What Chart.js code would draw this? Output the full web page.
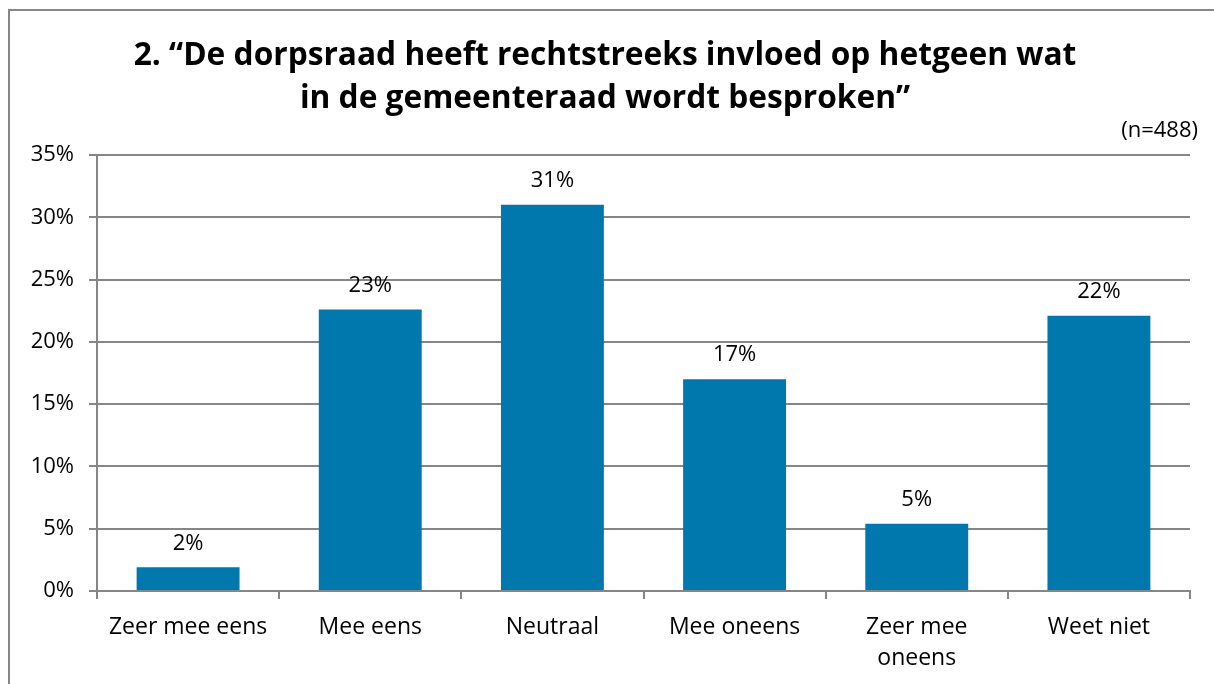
<!DOCTYPE html>
<html>
<head>
<meta charset="utf-8">
<script src="https://cdn.jsdelivr.net/npm/chart.js@4.4.0/dist/chart.umd.min.js"></script>
<style>
  html, body { margin: 0; padding: 0; background: #fff; }
  #wrap { position: relative; width: 1214px; height: 684px; }
</style>
</head>
<body>
<div id="wrap"><canvas id="chartDorpsraad" width="1214" height="684"></canvas></div>
<script>
// Stelling 2 - dorpsraad / gemeenteraad
const categories = ['Zeer mee eens', 'Mee eens', 'Neutraal', 'Mee oneens', ['Zeer mee', 'oneens'], 'Weet niet'];
const percentages = [1.9, 22.6, 31.0, 17.0, 5.4, 22.1];
const titleLines = ['2. \u201cDe dorpsraad heeft rechtstreeks invloed op hetgeen wat', 'in de gemeenteraad wordt besproken\u201d'];
const sampleNote = '(n=488)';

const FONT = '"Open Sans", sans-serif';
const GREY = '#868686';

// frame, title, n and value labels
const decorPlugin = {
  id: 'decor',
  beforeDraw(chart) {
    const ctx = chart.ctx;
    ctx.save();
    ctx.fillStyle = '#fff';
    ctx.fillRect(0, 0, chart.width, chart.height);
    ctx.strokeStyle = GREY;
    ctx.lineWidth = 2;
    ctx.beginPath();
    ctx.moveTo(9, chart.height);
    ctx.lineTo(9, 10);
    ctx.lineTo(chart.width, 10);
    ctx.stroke();
    ctx.restore();
  },
  afterDraw(chart) {
    const ctx = chart.ctx;
    ctx.save();
    ctx.fillStyle = '#000';
    ctx.textAlign = 'center';
    ctx.textBaseline = 'middle';
    ctx.font = 'bold 31.7px ' + FONT;
    ctx.fillText(titleLines[0], 605, 56);
    ctx.fillText(titleLines[1], 605, 99);
    ctx.font = '22px ' + FONT;
    ctx.textAlign = 'right';
    ctx.fillText(sampleNote, 1198, 131);
    ctx.textAlign = 'center';
    ctx.textBaseline = 'bottom';
    const meta = chart.getDatasetMeta(0);
    meta.data.forEach((bar, i) => {
      ctx.fillText(Math.round(percentages[i]) + '%', bar.x, bar.y - 13);
    });
    ctx.restore();
  }
};

new Chart(document.getElementById('chartDorpsraad').getContext('2d'), {
  type: 'bar',
  data: {
    labels: categories,
    datasets: [
      {
        data: percentages,
        backgroundColor: '#0077ad',
        borderWidth: 0,
        barPercentage: 1,
        categoryPercentage: 0.565
      }
    ]
  },
  options: {
    responsive: false,
    animation: false,
    layout: { padding: { left: 10, right: 24, top: 155, bottom: 0 } },
    plugins: {
      legend: { display: false },
      tooltip: { enabled: false }
    },
    scales: {
      y: {
        min: 0,
        max: 35,
        afterFit(scale) { scale.width = 87; },
        ticks: {
          stepSize: 5,
          color: '#000',
          padding: 15,
          font: { family: FONT, size: 22 },
          callback: v => v + '%'
        },
        grid: { color: GREY, lineWidth: 2, tickLength: 8 },
        border: { color: GREY, width: 2 }
      },
      x: {
        afterFit(scale) { scale.height = 93; },
        ticks: {
          color: '#000',
          padding: 13,
          maxRotation: 0,
          font: { family: FONT, size: 23, lineHeight: 1.35 }
        },
        grid: { drawOnChartArea: false, color: GREY, lineWidth: 2, tickLength: 8, offset: true },
        border: { color: GREY, width: 2 }
      }
    }
  },
  plugins: [decorPlugin]
});
</script>
</body>
</html>
